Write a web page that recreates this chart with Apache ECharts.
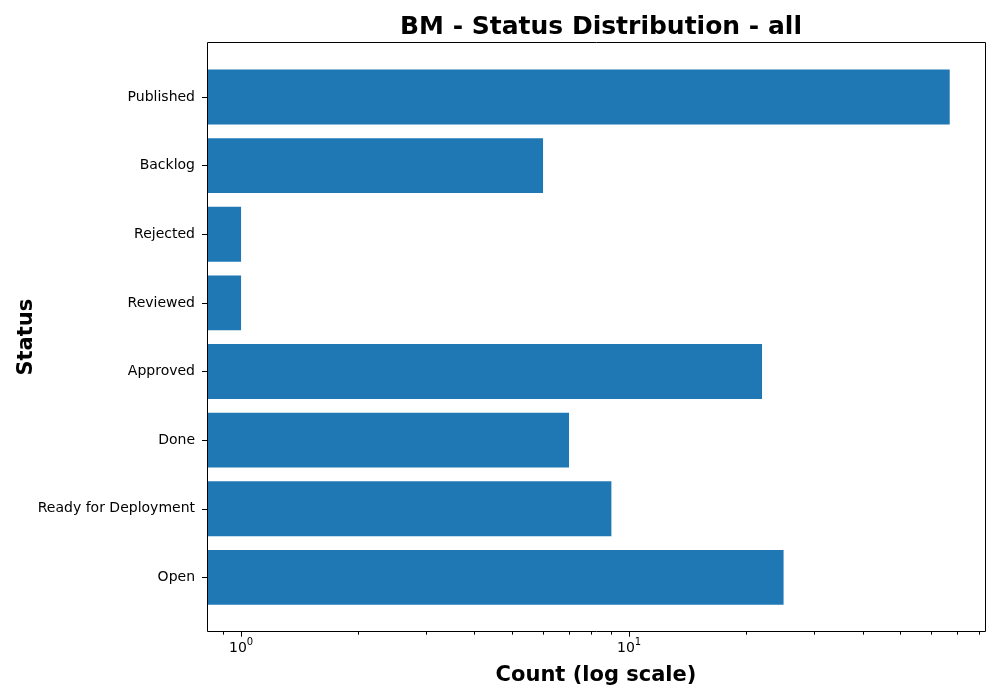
<!DOCTYPE html>
<html>
<head>
<meta charset="utf-8">
<script src="https://cdn.jsdelivr.net/npm/echarts@6/dist/echarts.min.js"></script>
<style>
  html, body { margin: 0; padding: 0; background: #fff; }
  #chart { width: 1000px; height: 700px; }
</style>
</head>
<body>
<div id="chart"></div>
<script>
// data (bottom to top)
var statuses = ['Open', 'Ready for Deployment', 'Done', 'Approved', 'Reviewed', 'Rejected', 'Backlog', 'Published'];
var counts = [25, 9, 7, 22, 1, 1, 6, 67];
var majorTicks = [1, 10];
var minorTicks = [0.9, 2, 3, 4, 5, 6, 7, 8, 9, 20, 30, 40, 50, 60, 70, 80];
var xMin = 0.817;
var xMax = 82.6;

var chart = echarts.init(document.getElementById('chart'));
var font = 'DejaVu Sans';

var option = {
    animation: false,
    textStyle: { fontFamily: font },
    title: {
        text: 'BM - Status Distribution - all',
        left: 596,
        top: 10,
        textAlign: 'center',
        textStyle: { fontFamily: font, fontSize: 25, fontWeight: 'bold', color: '#000' }
    },
    grid: {
        left: 207,
        right: 15,
        top: 62.7,
        height: 549,
        outerBoundsMode: 'none'
    },
    xAxis: [
        {
            type: 'log',
            logBase: 10,
            min: xMin,
            max: xMax,
            startValue: xMin,
            position: 'bottom',
            offset: 20,
            name: 'Count (log scale)',
            nameLocation: 'middle',
            nameGap: 33,
            nameTextStyle: { fontFamily: font, fontSize: 21, fontWeight: 'bold', color: '#000' },
            axisLine: { show: false },
            splitLine: { show: false },
            axisTick: { show: true, length: 5, customValues: majorTicks, lineStyle: { color: '#000' } },
            axisLabel: {
                customValues: majorTicks,
                color: '#000',
                margin: 6,
                formatter: function (v) {
                    var e = Math.round(Math.log10(v));
                    return '{b|10}{sup|' + e + '}';
                },
                rich: {
                    b: { fontFamily: font, fontSize: 14, color: '#000', padding: [4, 0, 0, 0] },
                    sup: { fontFamily: font, fontSize: 10, color: '#000', verticalAlign: 'top' }
                }
            }
        },
        {
            type: 'log',
            logBase: 10,
            min: xMin,
            max: xMax,
            position: 'bottom',
            offset: 20,
            axisLine: { show: false },
            splitLine: { show: false },
            axisLabel: { show: false },
            axisTick: { show: true, length: 3, customValues: minorTicks, lineStyle: { color: '#000' } }
        }
    ],
    yAxis: {
        type: 'category',
        data: statuses,
        name: 'Status',
        nameLocation: 'middle',
        nameGap: 170,
        nameRotate: 90,
        nameMoveOverlap: false,
        nameTextStyle: { fontFamily: font, fontSize: 21, fontWeight: 'bold', color: '#000' },
        axisLine: { show: false },
        axisTick: { show: true, length: 5, alignWithLabel: true, lineStyle: { color: '#000' } },
        axisLabel: { fontFamily: font, fontSize: 14, color: '#000', margin: 12 },
        splitLine: { show: false }
    },
    series: [
        {
            type: 'bar',
            data: counts,
            barWidth: '80%',
            itemStyle: { color: '#1f77b4' }
        }
    ],
    graphic: [
        {
            type: 'rect',
            shape: { x: 207.5, y: 42.5, width: 778, height: 589 },
            style: { fill: null, stroke: '#000', lineWidth: 1 },
            z: 100
        }
    ]
};

chart.setOption(option);
</script>
</body>
</html>
